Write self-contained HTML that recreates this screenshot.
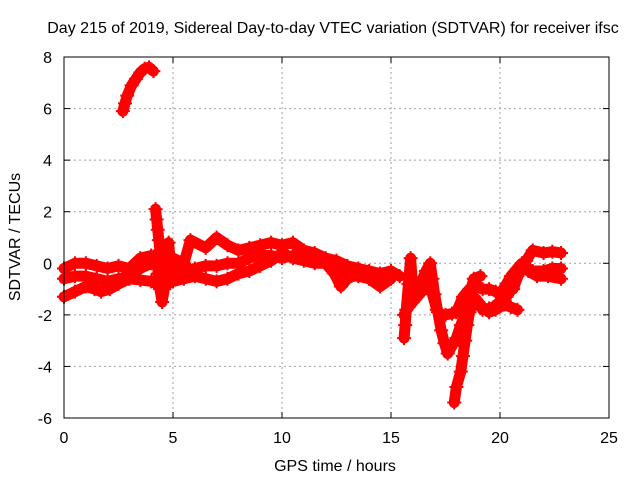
<!DOCTYPE html>
<html><head><meta charset="utf-8"><style>
body{margin:0;background:#fff}
svg{font-family:"Liberation Sans",sans-serif;}
</style></head><body>
<svg id="chart" width="640" height="480" xmlns="http://www.w3.org/2000/svg">
<text x="333" y="33" font-size="16" text-anchor="middle">Day 215 of 2019, Sidereal Day-to-day VTEC variation (SDTVAR) for receiver ifsc</text>
<text x="335" y="471" font-size="16" text-anchor="middle">GPS time / hours</text>
<text transform="translate(20,237) rotate(-90)" font-size="16" text-anchor="middle">SDTVAR / TECUs</text>
<g id="grid"></g>
<g id="ticks"></g>
<g id="series"></g>
<rect x="64" y="57" width="545" height="361" fill="none" stroke="#000" stroke-width="1"/>
</svg>
<script>
const xTicks=[0,5,10,15,20,25];
const yTicks=[-6,-4,-2,0,2,4,6,8];
const arcTrack=[[2.7,5.9],[2.8,6.2],[2.9,6.5],[3.1,6.9],[3.3,7.15],[3.5,7.4],[3.7,7.55],[3.9,7.6],[4.1,7.45]];
const band1=[[0,-0.2],[0.5,0.0],[1,0.0],[1.5,-0.1],[2,-0.2],[2.5,-0.1],[3,-0.2],[3.5,0.2],[4,0.3],[4.5,0.2],[5,0.2],[5.5,0.0],[5.8,0.9],[6.5,0.6],[7,1.0],[7.5,0.7],[8,0.5],[8.5,0.6],[9,0.7],[9.5,0.8],[10,0.7],[10.5,0.8],[11,0.5],[11.5,0.4],[12,0.2],[12.5,0.1],[13,-0.1],[13.5,-0.2],[14,-0.3],[14.5,-0.4],[15,-0.5]];
const band2=[[0,-0.6],[0.5,-0.5],[1,-0.5],[1.5,-0.6],[2,-0.7],[2.5,-0.6],[3,-0.5],[3.5,-0.2],[4,0],[4.5,-0.2],[5,-0.3],[5.5,-0.3],[6,-0.2],[6.5,-0.1],[7,-0.1],[7.5,0.0],[8,0],[8.5,0.2],[9,0.3],[9.5,0.3],[10,0.2],[10.5,0.3],[11,0.3],[11.5,0.1],[12,0],[12.5,-0.3],[13,-0.5],[13.5,-0.5],[14,-0.6],[14.5,-0.4],[15,-0.3],[15.4,-0.5]];
const band3=[[0,-1.3],[0.5,-1.1],[1,-0.9],[1.4,-1.0],[1.7,-1.1],[2.1,-1.0],[2.5,-0.8],[3,-0.6],[3.5,-0.65],[4,-0.7],[4.5,-0.9],[5,-0.7],[5.5,-0.6],[6,-0.5],[6.5,-0.6],[7,-0.7],[7.5,-0.6],[8,-0.4],[8.5,-0.3],[9,-0.1],[9.5,0.1],[10,0.4],[10.5,0.2],[11,0.1],[11.5,0.0],[12,0],[12.4,-0.4],[12.7,-0.9],[13,-0.6],[13.5,-0.4],[14,-0.6],[14.5,-0.9],[15,-0.6]];
const spikeTrack=[[4.2,2.1],[4.25,1.7],[4.3,1.3],[4.35,0.9],[4.4,0.5],[4.35,0.0],[4.3,-0.4],[4.4,-1.0],[4.5,-1.5],[4.6,-1.0],[4.7,-0.5],[4.75,0.2],[4.8,0.8],[4.9,-0.2]];
const lateA=[[15.6,-2.9],[15.65,-2.4],[15.7,-1.8],[15.8,-0.8],[15.9,0.2],[16,-1.0],[16.2,-0.9],[16.4,-0.7],[16.6,-0.3],[16.8,0.0],[16.9,-0.6],[17,-1.2],[17.15,-1.9],[17.3,-2.6],[17.45,-3.1],[17.6,-3.5],[17.8,-3.2],[18,-2.9],[18.2,-2.4],[18.4,-2.0],[18.6,-1.2],[18.8,-0.6],[19.1,-0.5]];
const lateB=[[15.6,-2.0],[15.8,-1.7],[16.0,-1.5],[16.3,-1.2],[16.5,-1.0],[16.7,-0.7],[16.9,-1.2],[17.1,-1.8],[17.3,-2.0],[17.5,-2.0],[17.8,-1.95],[18,-1.9],[18.3,-1.3],[18.6,-1.0]];
const lateC=[[17.9,-5.4],[18.0,-4.8],[18.2,-4.2],[18.3,-3.6],[18.4,-3.0],[18.5,-2.4],[18.6,-1.9],[18.8,-1.3],[19.0,-1.5],[19.2,-1.8],[19.5,-1.75],[19.7,-1.7],[20.0,-1.5],[20.3,-1.3],[20.6,-0.9],[20.8,-0.5],[21.0,-0.2],[21.2,0.1],[21.5,0.5],[22,0.4],[22.4,0.45],[22.8,0.4]];
const lateD=[[18.3,-1.8],[18.6,-1.7],[19,-1.5],[19.2,-1.7],[19.5,-1.9],[19.8,-1.8],[20.2,-1.6],[20.5,-1.7],[20.8,-1.8]];
const lateE=[[18.9,-0.9],[19.2,-1.0],[19.5,-1.0],[19.8,-1.1],[20,-1.2],[20.3,-0.8],[20.5,-0.5],[20.8,-0.2],[21,0.0],[21.3,-0.2],[21.5,-0.3],[22,-0.3],[22.4,-0.2],[22.8,-0.2]];
const lateF=[[20.6,-1.0],[21,-0.1],[21.3,-0.3],[21.7,-0.5],[22.2,-0.5],[22.8,-0.6]];
const tracks=[arcTrack,band1,band2,band3,spikeTrack,lateA,lateB,lateC,lateD,lateE,lateF];

const NS='http://www.w3.org/2000/svg';
const X0=64,X1=609,Y0=418,Y1=57;
function xs(h){return X0+(h-0)/(25-0)*(X1-X0);}
function ys(v){return Y0-(v+6)/(8+6)*(Y0-Y1);}
function mk(tag,attrs,parent){const e=document.createElementNS(NS,tag);for(const k in attrs)e.setAttribute(k,attrs[k]);parent.appendChild(e);return e;}
const grid=document.getElementById('grid'),ticks=document.getElementById('ticks'),series=document.getElementById('series');
xTicks.forEach(t=>{
  const x=xs(t);
  if(t>0&&t<25){const g=mk('line',{x1:x,x2:x,y1:Y1,y2:Y0,stroke:'#a0a0a0','stroke-dasharray':'2,3'},grid);
  
  }
  const l=mk('line',{x1:x,x2:x,y1:Y0,y2:Y0-6,stroke:'#000'},ticks);
  
  
  const l2=mk('line',{x1:x,x2:x,y1:Y1,y2:Y1+6,stroke:'#000'},ticks);
  
  
  const tx=mk('text',{x:x,y:443,'font-size':16,'text-anchor':'middle'},ticks);tx.textContent=t;
  
  
});
yTicks.forEach(t=>{
  const y=ys(t);
  if(t>-6&&t<8){const g=mk('line',{x1:X0,x2:X1,y1:y,y2:y,stroke:'#a0a0a0','stroke-dasharray':'2,3'},grid);
  
  }
  const l=mk('line',{x1:X0,x2:X0+6,y1:y,y2:y,stroke:'#000'},ticks);
  
  
  const l2=mk('line',{x1:X1,x2:X1-6,y1:y,y2:y,stroke:'#000'},ticks);
  
  
  const tx=mk('text',{x:52,y:y+6,'font-size':16,'text-anchor':'end'},ticks);tx.textContent=t;
  
  
});
tracks.forEach(tr=>{
  const pl=mk('polyline',{points:tr.map(p=>xs(p[0])+','+ys(p[1])).join(' '),fill:'none',stroke:'#ff0000','stroke-width':11,'stroke-linejoin':'round','stroke-linecap':'round'},series);
  
  
  tr.forEach(p=>{
    const x=xs(p[0]),y=ys(p[1]);
    const m=mk('path',{d:`M${x-7},${y}H${x+7}M${x},${y-7}V${y+7}`,stroke:'#ff0000','stroke-width':2},series);
    
    
  });
});
</script>
</body></html>
